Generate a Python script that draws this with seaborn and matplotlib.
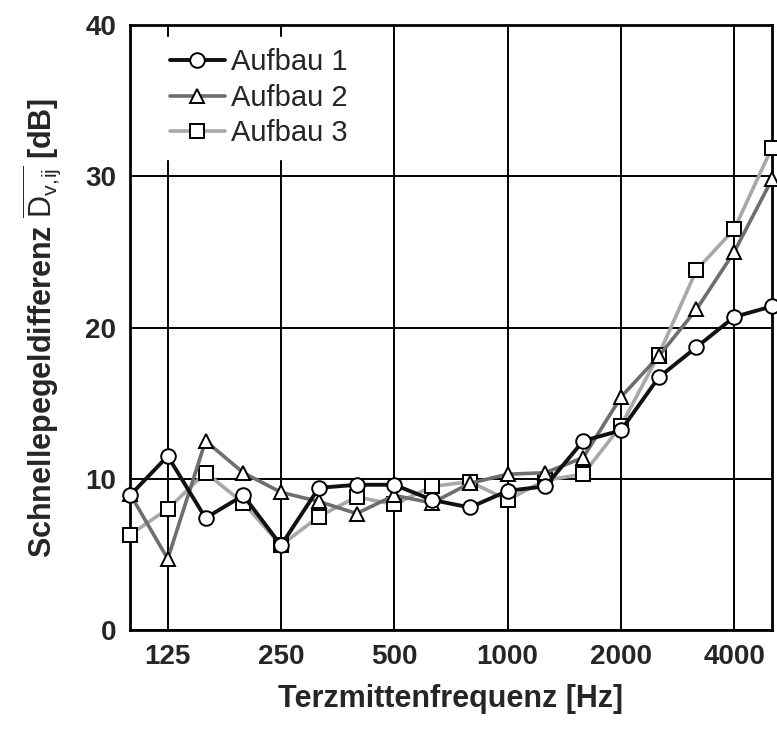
import numpy as np
import pandas as pd
import matplotlib
matplotlib.use("Agg")
import matplotlib.pyplot as plt
import seaborn as sns

freqs = [100, 125, 160, 200, 250, 315, 400, 500, 630, 800, 1000, 1250, 1600, 2000, 2500, 3150, 4000, 5000]
aufbau1 = [8.9, 11.5, 7.4, 8.9, 5.6, 9.4, 9.6, 9.6, 8.6, 8.1, 9.2, 9.5, 12.5, 13.2, 16.7, 18.7, 20.7, 21.4]
aufbau2 = [9.0, 4.7, 12.5, 10.4, 9.1, 8.5, 7.7, 8.9, 8.4, 9.7, 10.3, 10.4, 11.4, 15.4, 18.1, 21.2, 25.0, 29.8]
aufbau3 = [6.3, 8.0, 10.4, 8.4, 5.6, 7.5, 8.8, 8.3, 9.5, 9.8, 8.6, 9.9, 10.3, 13.5, 18.2, 23.8, 26.5, 31.9]
tick_freqs = [125, 250, 500, 1000, 2000, 4000]
yticks = [0, 10, 20, 30, 40]

sns.set_theme(style="white")
plt.rcParams['font.family'] = ['Liberation Sans', 'DejaVu Sans']
plt.rcParams['mathtext.fontset'] = 'custom'
plt.rcParams['mathtext.rm'] = 'Liberation Sans'
plt.rcParams['mathtext.it'] = 'Liberation Sans'
plt.rcParams['mathtext.bf'] = 'Liberation Sans:bold'

pos = list(range(len(freqs)))
df = pd.DataFrame({"pos": pos * 3,
                   "val": aufbau1 + aufbau2 + aufbau3,
                   "serie": ["Aufbau 1"] * len(freqs) + ["Aufbau 2"] * len(freqs) + ["Aufbau 3"] * len(freqs)})

fig = plt.figure(figsize=(7.77, 7.33), dpi=100)
ax = fig.add_axes([130/777, 1-630/733, 642/777, 605/733])

styles = {
    "Aufbau 1": dict(color="#111111", marker="o", lw=2.8, z=5),
    "Aufbau 2": dict(color="#6e6e6e", marker="^", lw=2.6, z=4),
    "Aufbau 3": dict(color="#a8a8a8", marker="s", lw=2.6, z=3),
}
for name, st in styles.items():
    sub = df[df.serie == name]
    sns.lineplot(data=sub, x="pos", y="val", ax=ax, color=st["color"], lw=st["lw"],
                 marker=st["marker"], markersize=10.5, markerfacecolor="white",
                 markeredgecolor="black", markeredgewidth=1.4, label=name,
                 zorder=st["z"], clip_on=False)

ax.set_xlim(0, len(freqs) - 1)
ax.set_ylim(0, 40)
ax.set_xticks([freqs.index(f) for f in tick_freqs])
ax.set_xticklabels([str(f) for f in tick_freqs], fontsize=20, fontweight="bold")
ax.set_yticks(yticks)
ax.set_yticklabels([str(v) for v in yticks], fontsize=20, fontweight="bold")
ax.tick_params(axis="both", direction="in", length=6, width=1.5, color="black", pad=10)
ax.grid(True, color="black", lw=1.4)
for sp in ax.spines.values():
    sp.set_color("black")
    sp.set_linewidth(2)
ax.set_xlabel("Terzmittenfrequenz [Hz]", fontsize=22, fontweight="bold", labelpad=10)
ax.set_ylabel(r"Schnellepegeldifferenz $\overline{\mathrm{D}_{\mathrm{v,\!ij}}}$ [dB]",
              fontsize=22, fontweight="bold", labelpad=16)

leg = ax.legend(loc="upper left", frameon=True, fontsize=21, handlelength=1.9,
                handletextpad=0.2, labelspacing=0.25, borderaxespad=0.3,
                bbox_to_anchor=(0.03, 0.995))
leg.get_frame().set_facecolor("white")
leg.get_frame().set_edgecolor("white")
leg.get_frame().set_alpha(1)
leg.set_zorder(10)

fig.savefig("out.png", dpi=100)
